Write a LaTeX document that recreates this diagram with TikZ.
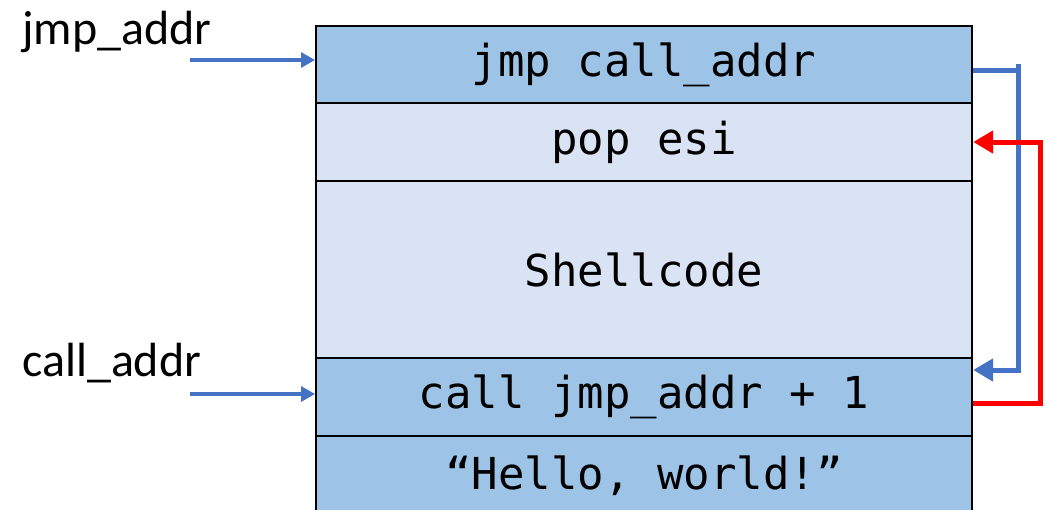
\documentclass[tikz,border=0pt]{standalone}
\usepackage{fontspec}
\setmonofont{DejaVu Sans Mono}
\newfontfamily\labelfont{Carlito}
\usetikzlibrary{arrows.meta}
\definecolor{rowdark}{HTML}{9DC3E6}
\definecolor{rowlight}{HTML}{DAE3F3}
\definecolor{jmpblue}{HTML}{4472C4}
\definecolor{callred}{HTML}{FF0000}
\tikzset{
  row/.style={draw=black, line width=2.2pt, minimum width=656pt, inner sep=0pt,
    font=\ttfamily\fontsize{44}{44}\selectfont, anchor=north west},
  addrlabel/.style={font=\labelfont\fontsize{48}{48}\selectfont, anchor=base west, inner sep=0pt},
  pointer/.style={jmpblue, line width=3.2pt, -{Triangle[length=14pt,width=15pt]}},
  flow/.style={line width=5pt, -{Triangle[length=20pt,width=22pt]}}
}
\begin{document}
\begin{tikzpicture}[x=1pt,y=-1pt]
\useasboundingbox (0,0) rectangle (1049,509);
\fill[white] (0,0) rectangle (1049,509);
% memory layout
\node[row, fill=rowdark,  minimum height=77pt]  (jmp)   at (315,25)  {jmp call\_addr};
\node[row, fill=rowlight, minimum height=78pt]  (pop)   at (315,102) {pop esi};
\node[row, fill=rowlight, minimum height=177pt] (shell) at (315,180) {Shellcode};
\node[row, fill=rowdark,  minimum height=78pt]  (call)  at (315,357) {call jmp\_addr + 1};
\node[row, fill=rowdark,  minimum height=80pt]  (str)   at (315,435) {“Hello, world!”};
% address labels
\node[addrlabel] (jlab) at (22,44)  {jmp\_addr};
\node[addrlabel] (clab) at (22,376) {call\_addr};
\coordinate (jtail) at (190,60);
\coordinate (ctail) at (190,394);
\draw[pointer] (jtail) -- (jtail -| jmp.west);
\draw[pointer] (ctail) -- (ctail -| call.west);
% jmp forward to call
\coordinate (jout) at (jmp.east |- 0,70);
\coordinate (jin)  at (call.east |- 0,370);
\draw[flow, jmpblue] (jout) -- (1018,70) -- (1018,370) -- (jin);
\draw[jmpblue, line width=5pt] (1018,64) -- (1018,72);
% call back to pop
\coordinate (cout) at (call.east |- 0,403);
\coordinate (cin)  at (pop.east |- 0,142);
\draw[flow, callred] (cout) -- (1040,403) -- (1040,142) -- (cin);
\end{tikzpicture}
\end{document}
